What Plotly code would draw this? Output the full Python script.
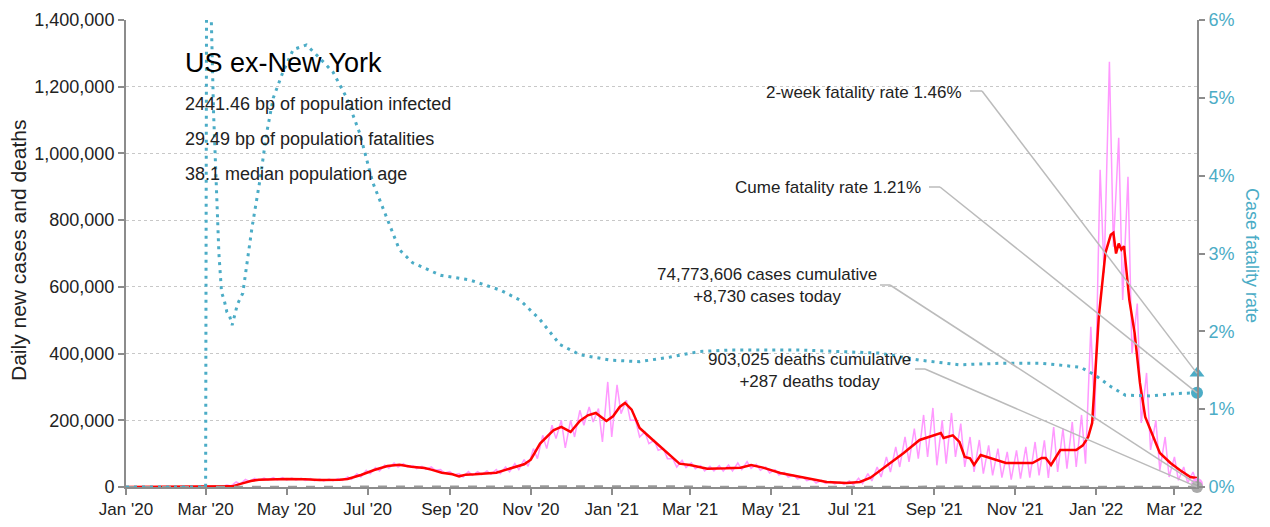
import pandas as pd
import plotly.graph_objects as go

FONT = "Liberation Sans, Arial, sans-serif"
TEAL = "#4BACC6"
PINK = "#FF99FF"
RED = "#FF0000"
GREY = "#9A9A9A"

# ---------------- data ----------------
# 7-day average of new cases (thousands)
red_dates = ["2020-01-01", "2020-03-07", "2020-03-14", "2020-03-21", "2020-03-28", "2020-04-04",
             "2020-04-10", "2020-04-20", "2020-05-01", "2020-05-15", "2020-05-26", "2020-06-10",
             "2020-06-16", "2020-06-26", "2020-07-06", "2020-07-16", "2020-07-25", "2020-08-03",
             "2020-08-13", "2020-08-18", "2020-08-26", "2020-09-03", "2020-09-08", "2020-09-13",
             "2020-09-20", "2020-10-06", "2020-10-17", "2020-10-27", "2020-11-01", "2020-11-08",
             "2020-11-18", "2020-11-24", "2020-12-01", "2020-12-08", "2020-12-14", "2020-12-20",
             "2020-12-28", "2021-01-02", "2021-01-07", "2021-01-11", "2021-01-16", "2021-01-22",
             "2021-02-01", "2021-02-12", "2021-02-21", "2021-03-01", "2021-03-14", "2021-03-28",
             "2021-04-08", "2021-04-16", "2021-04-25", "2021-05-08", "2021-05-26", "2021-06-12",
             "2021-06-27", "2021-07-07", "2021-07-15", "2021-07-25", "2021-08-09", "2021-08-21",
             "2021-08-30", "2021-09-06", "2021-09-08", "2021-09-15", "2021-09-20", "2021-09-24",
             "2021-09-28", "2021-10-01", "2021-10-06", "2021-10-15", "2021-10-25", "2021-11-14",
             "2021-11-21", "2021-11-24", "2021-11-28", "2021-12-05", "2021-12-17", "2021-12-22",
             "2021-12-26", "2021-12-29", "2021-12-31", "2022-01-03", "2022-01-08", "2022-01-12",
             "2022-01-14", "2022-01-16", "2022-01-18", "2022-01-20", "2022-01-22", "2022-01-24",
             "2022-01-26", "2022-01-30", "2022-02-03", "2022-02-07", "2022-02-11",
             "2022-02-18", "2022-02-26", "2022-03-05", "2022-03-13", "2022-03-18"]
red_k = [0, 0, 0.5, 2, 10, 18,
         22, 24, 24, 23, 21, 22,
         24, 36, 51, 63, 67, 61,
         57, 52, 43, 38, 32, 37,
         38, 43, 55, 68, 82, 130,
         170, 180, 165, 198, 215, 222,
         198, 212, 240, 252, 232, 177,
         141, 102, 70, 66, 55, 56,
         58, 66, 58, 42, 27, 15,
         12, 15, 28, 58, 102, 141,
         152, 162, 147, 155, 135, 90,
         86, 66, 96, 84, 72, 72,
         87, 87, 66, 111, 111, 125,
         150, 192, 330, 510, 702, 756,
         762, 700, 730, 712, 722, 640,
         561, 462, 312, 210, 171,
         102, 72, 51, 30, 27]

# Daily new cases: weekly high / low readings (thousands), weeks starting 2020-03-02
pink_week_start = "2020-03-02"
pink_hi_k = [0.3, 1.5, 6, 15, 23, 26, 27, 28, 28, 27, 26, 25, 24, 24, 25, 30, 40, 50, 58, 66,
             72, 70, 64, 62, 60, 52, 46, 40, 46, 46, 48, 52, 60, 70, 82, 115, 155, 185, 200, 200,
             230, 240, 235, 315, 306, 260, 200, 165, 140, 115, 85, 80, 72, 64, 62, 64, 66, 72, 76, 68,
             60, 52, 44, 36, 30, 24, 20, 17, 15, 18, 26, 40, 60, 90, 120, 150, 175, 216, 237, 200,
             222, 190, 150, 141, 125, 115, 105, 110, 120, 135, 140, 180, 175, 195, 216, 480, 951, 1275, 1047, 930,
             550, 342, 200, 150, 90, 60, 45]
pink_lo_k = [0.1, 0.8, 3, 9, 17, 20, 21, 21, 21, 21, 20, 19, 18, 19, 20, 23, 30, 40, 48, 56,
             60, 60, 55, 53, 50, 42, 36, 30, 35, 37, 38, 40, 46, 52, 62, 85, 115, 145, 117, 150,
             185, 195, 135, 150, 220, 200, 150, 130, 110, 85, 60, 58, 55, 48, 48, 48, 48, 52, 56, 50,
             42, 36, 30, 24, 19, 12, 11, 9, 8, 7, 10, 18, 30, 45, 60, 75, 85, 90, 65, 70,
             90, 60, 45, 40, 35, 28, 22, 25, 28, 35, 27, 45, 55, 60, 70, 200, 642, 720, 561, 400,
             192, 111, 50, 30, 20, 12, 8.73]

# 7-day average of deaths
death_dates = ["2020-01-01", "2020-03-02", "2020-03-16", "2020-03-30", "2020-04-13", "2020-04-27",
               "2020-05-11", "2020-05-25", "2020-06-08", "2020-06-22", "2020-07-06", "2020-07-20",
               "2020-08-03", "2020-08-17", "2020-08-31", "2020-09-14", "2020-09-28", "2020-10-12",
               "2020-10-26", "2020-11-09", "2020-11-23", "2020-12-07", "2020-12-21", "2021-01-04",
               "2021-01-18", "2021-02-01", "2021-02-15", "2021-03-01", "2021-03-15", "2021-03-29",
               "2021-04-12", "2021-04-26", "2021-05-10", "2021-05-24", "2021-06-07", "2021-06-21",
               "2021-07-05", "2021-07-19", "2021-08-02", "2021-08-16", "2021-08-30", "2021-09-13",
               "2021-09-27", "2021-10-11", "2021-10-25", "2021-11-08", "2021-11-22", "2021-12-06",
               "2021-12-20", "2022-01-03", "2022-01-17", "2022-01-31", "2022-02-14", "2022-02-28",
               "2022-03-14", "2022-03-18"]
deaths = [0, 0, 50, 500, 1300, 1400, 1200, 900, 700, 550, 600, 900,
          1050, 1000, 850, 800, 720, 720, 800, 1050, 1500, 2200, 2500, 2700,
          3000, 2800, 2100, 1800, 1100, 900, 700, 700, 600, 500, 350, 280,
          220, 280, 400, 700, 1300, 1800, 1950, 1600, 1350, 1100, 1050, 1200,
          1250, 1300, 1900, 2400, 2200, 1600, 1100, 1000]

# Cumulative case fatality rate (%)
cfr_dates = ["2020-01-01", "2020-03-01", "2020-03-02", "2020-03-04", "2020-03-05", "2020-03-07",
             "2020-03-09", "2020-03-11", "2020-03-13", "2020-03-15", "2020-03-17", "2020-03-19",
             "2020-03-21", "2020-03-23", "2020-03-25", "2020-03-29", "2020-04-01", "2020-04-05",
             "2020-04-11", "2020-04-16", "2020-04-21", "2020-04-28", "2020-05-06", "2020-05-16",
             "2020-05-26", "2020-06-05", "2020-06-15", "2020-06-25", "2020-07-05", "2020-07-16",
             "2020-07-25", "2020-08-04", "2020-08-25", "2020-09-16", "2020-10-09", "2020-10-24",
             "2020-11-08", "2020-11-23", "2020-12-08", "2020-12-31", "2021-01-22", "2021-02-14",
             "2021-03-08", "2021-03-31", "2021-05-23", "2021-06-22", "2021-07-22", "2021-08-21",
             "2021-09-20", "2021-10-21", "2021-11-20", "2021-12-20", "2021-12-31", "2022-01-12",
             "2022-01-23", "2022-02-11", "2022-03-01", "2022-03-18"]
cfr_pct = [0, 0, 9.0, 7.5, 6.2, 4.8,
           3.8, 3.0, 2.5, 2.4, 2.25, 2.2,
           2.08, 2.2, 2.35, 2.49, 2.83, 3.34,
           3.95, 4.55, 5.0, 5.32, 5.62, 5.68,
           5.51, 5.33, 5.01, 4.55, 3.91, 3.43,
           3.05, 2.88, 2.72, 2.66, 2.53, 2.40,
           2.15, 1.83, 1.70, 1.63, 1.61, 1.67,
           1.74, 1.76, 1.76, 1.74, 1.72, 1.63,
           1.57, 1.59, 1.59, 1.54, 1.44, 1.29,
           1.18, 1.17, 1.20, 1.21]

last_date = "2022-03-18"
two_week_cfr = 1.46
cume_cfr = 1.21
cases_today = 8730
deaths_today = 287
cases_cum = 74773606
deaths_cum = 903025

title = "US ex-New York"
stats = ["2441.46 bp of population infected",
         "29.49 bp of population fatalities",
         "38.1 median population age"]

y_max = 1400000
y2_max = 6

# ---------------- build ----------------
weeks = pd.date_range(pink_week_start, periods=len(pink_hi_k), freq="7D")
pink_x = [pd.Timestamp("2020-01-01"), pd.Timestamp("2020-03-01")]
pink_y = [0, 0]
for w, hi, lo in zip(weeks, pink_hi_k, pink_lo_k):
    pink_x += [w + pd.Timedelta(days=1), w + pd.Timedelta(days=4)]
    pink_y += [hi * 1000, lo * 1000]

fig = go.Figure()
fig.add_trace(go.Scatter(x=pink_x, y=pink_y, mode="lines",
                         line=dict(color=PINK, width=1.5), hoverinfo="skip"))
fig.add_trace(go.Scatter(x=red_dates, y=[v * 1000 for v in red_k], mode="lines",
                         line=dict(color=RED, width=2.5), hoverinfo="skip"))
fig.add_trace(go.Scatter(x=death_dates, y=deaths, mode="lines",
                         line=dict(color=GREY, width=2, dash="dash"), hoverinfo="skip"))
fig.add_trace(go.Scatter(x=cfr_dates, y=cfr_pct, mode="lines", yaxis="y2",
                         line=dict(color=TEAL, width=3, dash="3px,5px"), hoverinfo="skip"))
# end markers
fig.add_trace(go.Scatter(x=[last_date], y=[cases_today], mode="markers", cliponaxis=False,
                         marker=dict(color=PINK, size=12), hoverinfo="skip"))
fig.add_trace(go.Scatter(x=[last_date], y=[deaths_today], mode="markers", cliponaxis=False,
                         marker=dict(color="#AAAAAA", size=12), hoverinfo="skip"))
fig.add_trace(go.Scatter(x=[last_date], y=[two_week_cfr], mode="markers", yaxis="y2", cliponaxis=False,
                         marker=dict(color=TEAL, size=13, symbol="triangle-up"), hoverinfo="skip"))
fig.add_trace(go.Scatter(x=[last_date], y=[cume_cfr], mode="markers", yaxis="y2", cliponaxis=False,
                         marker=dict(color=TEAL, size=12), hoverinfo="skip"))

# plot area (reference pixels); page body adds an 8px offset
OFF = 8
X0, X1, Y0, Y1 = 126, 1197, 20, 487
W, H = 1270, 527
PW, PH = X1 - X0, Y1 - Y0
L, T = X0 - OFF, Y0 - OFF
R, B = W - L - PW, H - T - PH


def px(x):
    return (x - X0) / PW


def py(y):
    return (Y1 - y) / PH


ann = []
ann.append(dict(x=px(183), y=py(63), xref="paper", yref="paper", text=title, showarrow=False,
                xanchor="left", yanchor="middle", font=dict(size=27, color="#000")))
for i, s in enumerate(stats):
    ann.append(dict(x=px(183), y=py(104 + 35 * i), xref="paper", yref="paper", text=s, showarrow=False,
                    xanchor="left", yanchor="middle", font=dict(size=18, color="#222")))

labels = [
    (f"2-week fatality rate {two_week_cfr:.2f}%", 964, 93, "right", (970, 982, 91), two_week_cfr / y2_max),
    (f"Cume fatality rate {cume_cfr:.2f}%", 923, 187, "right", (929, 940, 187), cume_cfr / y2_max),
    (f"{cases_cum:,} cases cumulative<br>+{cases_today:,} cases today", 767, 285, "center",
     (880, 890, 285), cases_today / y_max),
    (f"{deaths_cum:,} deaths cumulative<br>+{deaths_today:,} deaths today", 809, 370, "center",
     (915, 925, 369), deaths_today / y_max),
]
shapes = []
for text, tx, ty, anchor, (x0, x1, ly), yend in labels:
    ann.append(dict(x=px(tx), y=py(ty), xref="paper", yref="paper", text=text, showarrow=False,
                    xanchor=anchor, yanchor="middle", align="center",
                    font=dict(size=17, color="#222")))
    shapes.append(dict(type="line", xref="paper", yref="paper", x0=px(x0), x1=px(x1),
                       y0=py(ly), y1=py(ly), line=dict(color="#BBBBBB", width=1.5), layer="above"))
    shapes.append(dict(type="line", xref="paper", yref="paper", x0=px(x1), x1=1.0,
                       y0=py(ly), y1=yend, line=dict(color="#BBBBBB", width=1.5), layer="above"))

# axis titles
ann.append(dict(x=px(18), y=py(250), xref="paper", yref="paper", text="Daily new cases and deaths",
                showarrow=False, textangle=-90, xanchor="center", yanchor="middle",
                font=dict(size=21, color="#222")))
ann.append(dict(x=px(1252), y=py(255), xref="paper", yref="paper", text="Case fatality rate",
                showarrow=False, textangle=90, xanchor="center", yanchor="middle",
                font=dict(size=18, color=TEAL)))

fig.update_layout(
    width=W, height=H,
    margin=dict(l=L, r=R, t=T, b=B, autoexpand=False),
    paper_bgcolor="white", plot_bgcolor="white",
    showlegend=False,
    font=dict(family=FONT, size=17, color="#222"),
    annotations=ann, shapes=shapes,
    xaxis=dict(range=["2020-01-01", last_date], dtick="M2", tick0="2020-01-01",
               tickformat="%b '%y", showgrid=False, showline=True, linecolor="#8C8C8C",
               linewidth=2, ticks="outside", ticklen=6, tickcolor="#8C8C8C", tickwidth=1.5,
               tickfont=dict(size=17, color="#222"), zeroline=False),
    yaxis=dict(range=[0, y_max], dtick=200000, tickformat=",d", showline=True,
               linecolor="#8C8C8C", linewidth=2, ticks="outside", ticklen=6, tickcolor="#8C8C8C",
               tickwidth=1.5, showgrid=True, gridcolor="#C8C8C8", griddash="dot", gridwidth=1,
               zeroline=False, tickfont=dict(size=18, color="#222")),
    yaxis2=dict(range=[0, y2_max], dtick=1, ticksuffix="%", overlaying="y", side="right",
                showline=True, linecolor="#8C8C8C", linewidth=2, ticks="outside", ticklen=6,
                tickcolor="#8C8C8C", tickwidth=1.5, showgrid=False, zeroline=False,
                tickfont=dict(size=18, color=TEAL)),
)

fig.write_html("out.html")
